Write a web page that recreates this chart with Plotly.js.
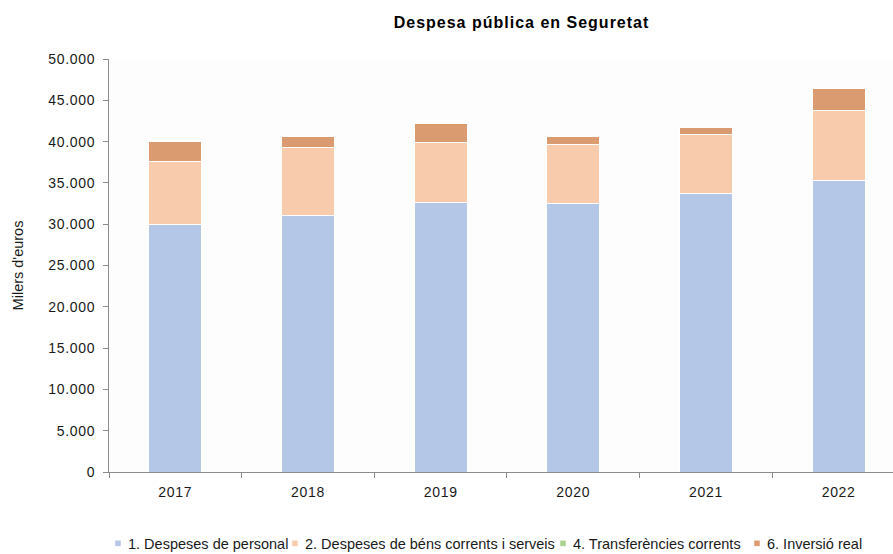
<!DOCTYPE html>
<html>
<head>
<meta charset="utf-8">
<script src="https://cdn.plot.ly/plotly-3.0.1.min.js"></script>
<style>
html,body{margin:0;padding:0;background:#fff}
#chart{width:893px;height:554px}
#chart .xtick text, #chart .ytick text{letter-spacing:0.7px}
#chart .gtitle{letter-spacing:1px}
#chart .legendpoints path{transform:translate(30px,0px) scale(0.5)}
#chart .infolayer rect.bg{display:none}
</style>
</head>
<body>
<div id="chart"></div>
<script>
const years = ["2017", "2018", "2019", "2020", "2021", "2022"];
const personal = [30000, 31000, 32650, 32450, 33700, 35350];
const bens = [7610, 8230, 7220, 7180, 7190, 8390];
const transferencies = [30, 30, 30, 30, 30, 30];
const inversio = [2430, 1410, 2260, 1010, 800, 2630];

const seriesNames = ["1. Despeses de personal", "2. Despeses de béns corrents i serveis", "4. Transferències corrents", "6. Inversió real"];
const seriesValues = [personal, bens, transferencies, inversio];
const seriesColors = ["#b4c7e7", "#f8cbad", "#a9d18e", "#db9b70"];
const legendIds = ["legend", "legend2", "legend3", "legend4"];

const traces = seriesValues.map((vals, i) => ({
  type: "bar",
  name: seriesNames[i],
  x: years,
  y: vals,
  width: 0.4,
  legend: legendIds[i],
  marker: {color: seriesColors[i], line: {color: "#ffffff", width: 1}},
  hoverinfo: "x+y+name"
}));

const fam = "Liberation Sans, Arial, sans-serif";
const legendFont = {family: fam, size: 14.5, color: "#1a1a1a"};
const textStarts = [128, 305, 573, 767];
const plotLeft = 109, plotWidth = 784;
const legendBase = (xs) => ({
  orientation: "h", x: (xs - 40 - plotLeft) / plotWidth, xanchor: "left",
  y: -0.173, yanchor: "middle", font: legendFont, bgcolor: "rgba(0,0,0,0)",
  itemclick: false, itemdoubleclick: false
});

const layout = {
  width: 893, height: 554,
  margin: {l: plotLeft, r: 0, t: 59, b: 82, autoexpand: false},
  paper_bgcolor: "#ffffff",
  plot_bgcolor: "#fdfdfd",
  separators: ",.",
  barmode: "stack",
  title: {text: "<b>Despesa pública en Seguretat</b>", x: 0.584, xanchor: "center", y: 0.96, yanchor: "middle",
          font: {family: fam, size: 16, color: "#000"}},
  xaxis: {
    type: "category", range: [-0.5, 5.41], automargin: false,
    showline: true, linecolor: "#8c8c8c", linewidth: 1,
    ticks: "outside", tickson: "boundaries", ticklen: 5, tickcolor: "#8c8c8c",
    ticklabelstandoff: 7,
    tickfont: {family: fam, size: 14, color: "#1a1a1a"},
    showgrid: false, zeroline: false
  },
  yaxis: {
    range: [0, 50000], dtick: 5000, tickformat: ",d", automargin: false,
    showline: true, linecolor: "#8c8c8c", linewidth: 1,
    ticks: "outside", ticklen: 5, tickcolor: "#8c8c8c",
    ticklabelstandoff: 5,
    tickfont: {family: fam, size: 14, color: "#1a1a1a"},
    showgrid: false, zeroline: false,
    title: {text: "Milers d'euros", standoff: 25, font: {family: fam, size: 14.5, color: "#1a1a1a"}}
  },
  legend: legendBase(textStarts[0]),
  legend2: legendBase(textStarts[1]),
  legend3: legendBase(textStarts[2]),
  legend4: legendBase(textStarts[3]),
  showlegend: true
};

const gd = document.getElementById("chart");
Plotly.newPlot(gd, traces, layout, {displayModeBar: false, staticPlot: true}).then(() => {
  const base = gd.getBoundingClientRect().left;
  const upd = {};
  legendIds.forEach((id, i) => {
    const t = gd.querySelector("g." + id + " .legendtext");
    if (!t) return;
    const left = t.getBoundingClientRect().left - base;
    const delta = textStarts[i] - left;
    upd[id + ".x"] = gd.layout[id].x + delta / plotWidth;
  });
  return Plotly.relayout(gd, upd);
});
</script>
</body>
</html>
